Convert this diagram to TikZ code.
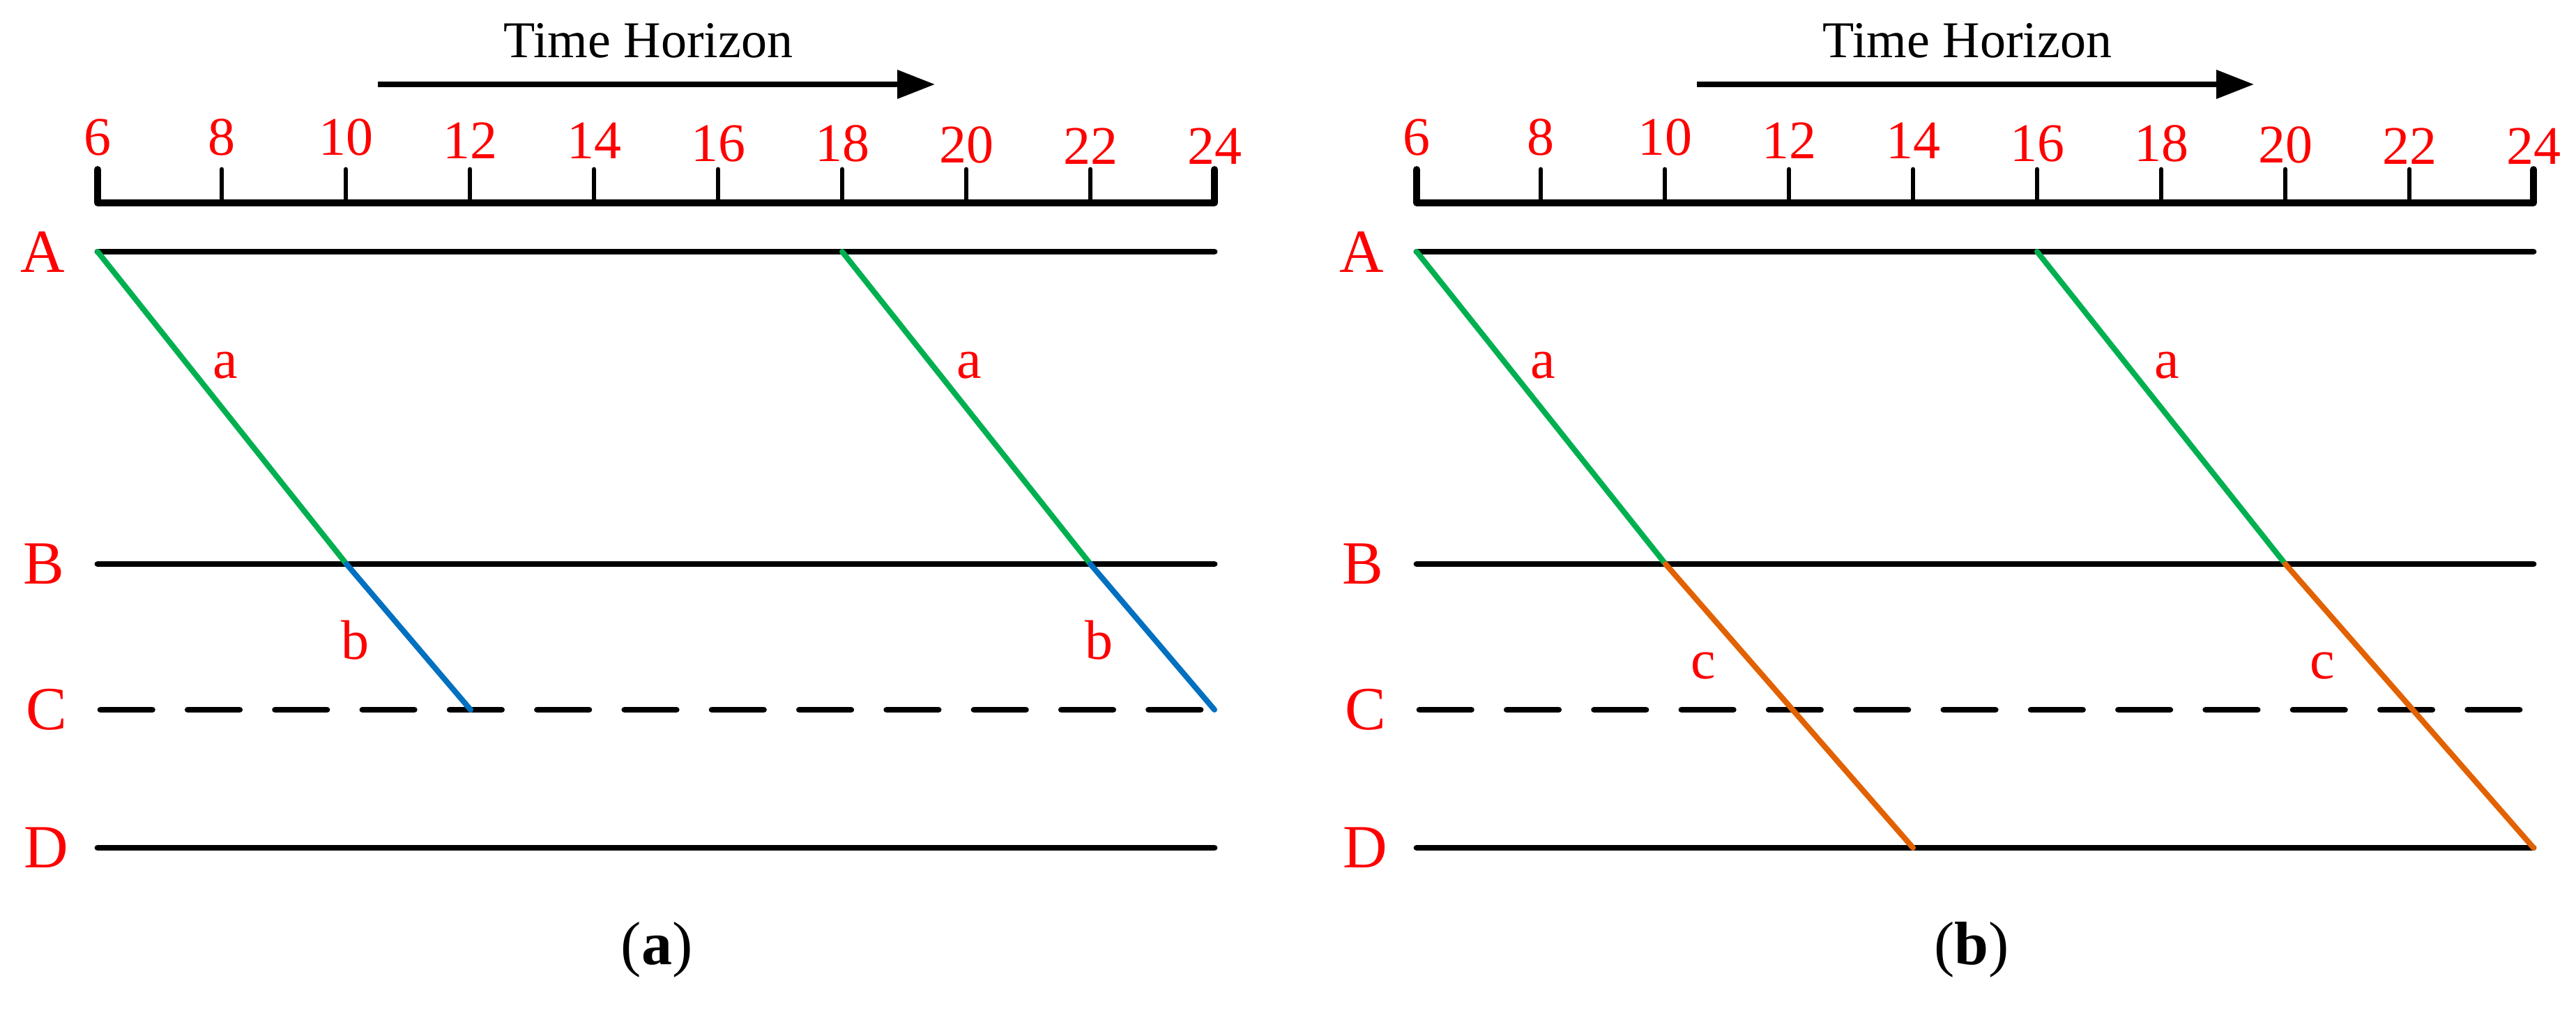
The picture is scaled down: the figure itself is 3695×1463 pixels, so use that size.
\documentclass[tikz,border=0pt]{standalone}
\usepackage{fontspec}
\setmainfont{Liberation Serif}
\usetikzlibrary{arrows.meta}
\definecolor{lgreen}{RGB}{0,176,80}
\definecolor{lblue}{RGB}{0,112,192}
\definecolor{lorange}{RGB}{226,97,0}
\definecolor{lred}{RGB}{255,0,0}
\tikzset{
  station/.style={draw=black, line width=2.2pt, line cap=round},
  dashstation/.style={draw=black, line width=2.2pt, line cap=round, dash pattern=on 18.6pt off 12.725pt},
  ruler/.style={draw=black, line width=2.4pt, line cap=round, line join=round},
  tickmark/.style={draw=black, line width=1.7pt, line cap=round},
  cline/.style={line width=2pt, line cap=round},
  stlab/.style={text=lred, font=\fontsize{22}{26}\selectfont, inner sep=0pt},
  seglab/.style={text=lred, font=\fontsize{20}{24}\selectfont, inner sep=0pt},
  num/.style={text=lred, font=\fontsize{19.5}{23}\selectfont, inner sep=0pt, anchor=base},
  title/.style={text=black, font=\fontsize{18.5}{22}\selectfont, inner sep=0pt, anchor=base},
  caption/.style={text=black, font=\fontsize{22}{26}\selectfont, inner sep=0pt},
  harrow/.style={draw=black, line width=1.8pt, -{Triangle[length=13.5pt, width=10pt]}},
}
\newcommand{\panelbase}[1]{%
  \foreach \t/\by in {6/223,8/223,10/223,12/228,14/228,16/232,18/232,20/234,22/236,24/236} {
    \coordinate (#1t\t) at ({140+(\t-6)*89},243);
    \coordinate (#1r\t) at ({140+(\t-6)*89},291);
    \node[num] (#1n\t) at ({140+(\t-6)*89},\by) {\t};
  }
  \draw[ruler] (#1t6) -- (#1r6) -- (#1r24) -- (#1t24);
  \foreach \t in {8,10,...,22} { \draw[tickmark] (#1t\t) -- (#1r\t); }
  % time horizon
  \node[title] (#1TH) at (930,83) {Time Horizon};
  \coordinate (#1h0) at (542,121);
  \coordinate (#1h1) at (1341,121);
  \draw[harrow] (#1h0) -- (#1h1);
  % stations
  \coordinate (#1A0) at (140,361);  \coordinate (#1A1) at (1742,361);
  \coordinate (#1B0) at (140,809);  \coordinate (#1B1) at (1742,809);
  \coordinate (#1C0) at (144,1018); \coordinate (#1C1) at (1742,1018);
  \coordinate (#1D0) at (140,1216); \coordinate (#1D1) at (1742,1216);
  \draw[station] (#1A0) -- (#1A1);
  \draw[station] (#1B0) -- (#1B1);
  \draw[dashstation] (#1C0) -- (#1C1);
  \draw[station] (#1D0) -- (#1D1);
  \node[stlab] (#1LA) at (61,361) {A};
  \node[stlab] (#1LB) at (63,809) {B};
  \node[stlab] (#1LC) at (67,1018) {C};
  \node[stlab] (#1LD) at (66,1216) {D};
}
\begin{document}
\begin{tikzpicture}[x=0.25pt,y=-0.25pt]
\useasboundingbox (0,0) rectangle (3695,1463);
% ---------- panel (a)
\begin{scope}
  \panelbase{a}
  \coordinate (aP1) at (140,361);
  \coordinate (aP2) at (497,809);
  \coordinate (aP3) at (675,1018);
  \coordinate (aQ1) at (1208,361);
  \coordinate (aQ2) at (1564,809);
  \coordinate (aQ3) at (1742,1018);
  \draw[cline, lgreen] (aP1) -- (aP2);
  \draw[cline, lblue] (aP2) -- (aP3);
  \draw[cline, lgreen] (aQ1) -- (aQ2);
  \draw[cline, lblue] (aQ2) -- (aQ3);
  \node[seglab] (aLa1) at (323,524) {a};
  \node[seglab] (aLa2) at (1390,524) {a};
  \node[seglab] (aLb1) at (509,918) {b};
  \node[seglab] (aLb2) at (1576,918) {b};
  \node[caption] (capa) at (942,1362) {(\textbf{a})};
\end{scope}
% ---------- panel (b)
\begin{scope}[xshift=473pt]
  \panelbase{b}
  \coordinate (bP1) at (140,361);
  \coordinate (bP2) at (497,809);
  \coordinate (bP3) at (852,1216);
  \coordinate (bQ1) at (1030,361);
  \coordinate (bQ2) at (1386,809);
  \coordinate (bQ3) at (1742,1216);
  \draw[cline, lgreen] (bP1) -- (bP2);
  \draw[cline, lorange] (bP2) -- (bP3);
  \draw[cline, lgreen] (bQ1) -- (bQ2);
  \draw[cline, lorange] (bQ2) -- (bQ3);
  \node[seglab] (bLa1) at (321,524) {a};
  \node[seglab] (bLa2) at (1216,524) {a};
  \node[seglab] (bLc1) at (551,955) {c};
  \node[seglab] (bLc2) at (1439,955) {c};
  \node[caption] (capb) at (936,1362) {(\textbf{b})};
\end{scope}
\end{tikzpicture}
\end{document}
